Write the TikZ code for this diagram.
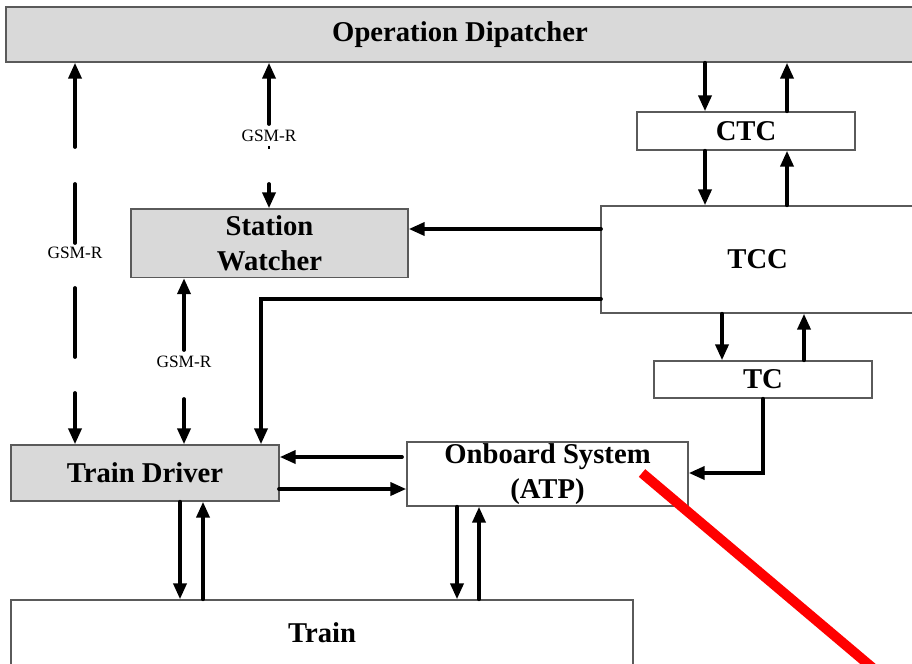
\documentclass[tikz,border=0pt]{standalone}
\usepackage{fontspec}
\setmainfont{Liberation Serif}
\usetikzlibrary{arrows.meta}
\definecolor{boxfill}{RGB}{217,217,217}
\definecolor{boxline}{RGB}{90,90,90}
\begin{document}
\begin{tikzpicture}[x=0.75pt,y=-0.75pt,
  unit/.style={draw=boxline,line width=1.1pt,inner sep=0pt,align=center,
    font=\fontsize{21.5}{26.25}\selectfont\bfseries},
  shaded/.style={unit,fill=boxfill},
  plain/.style={unit,fill=white},
  link/.style={line width=2.8pt,line cap=round,-{Triangle[length=12pt,width=9.75pt]}},
  bare/.style={line width=2.8pt,line cap=round},
  radio/.style={font=\fontsize{13}{15}\selectfont,inner sep=0pt}]
\useasboundingbox (0,0) rectangle (912,663);

% blocks (the dispatcher and TCC run past the right edge)
\node[shaded, minimum width=699pt,   minimum height=41.25pt]  (disp)  at (472,34.5)    {\hspace*{-18pt}Operation Dipatcher};
\node[plain,  minimum width=163.5pt, minimum height=28.5pt]   (ctc)   at (746,131)     {CTC};
\node[plain,  minimum width=255pt,   minimum height=80.25pt]  (tcc)   at (771,259.5)   {\hspace*{-20pt}TCC};
\node[plain,  minimum width=163.5pt, minimum height=27.75pt]  (tc)    at (763,379.5)   {TC};
\node[shaded, minimum width=207.75pt,minimum height=51.375pt] (sw)    at (269.5,243.25){Station\\Watcher};
\node[shaded, minimum width=201pt,   minimum height=42pt]     (td)    at (145,473)     {Train Driver};
\node[plain,  minimum width=210.75pt,minimum height=48pt]     (obs)   at (547.5,474)   {Onboard System\\(ATP)};
\node[plain,  minimum width=466.5pt, minimum height=49.5pt]   (train) at (322,633)     {Train};

% GSM-R radio link: dispatcher <-> driver
\coordinate (a1) at (75,147);
\coordinate (a2) at (75,184);
\coordinate (a3) at (75,243);
\coordinate (a4) at (75,288);
\coordinate (a5) at (75,357);
\coordinate (a6) at (75,393);
\draw[link] (a1) -- (a1 |- disp.south);
\draw[bare] (a2) -- (a3);
\node[radio] (r1) at (75,253) {GSM-R};
\draw[bare] (a4) -- (a5);
\draw[link] (a6) -- (a6 |- td.north);

% GSM-R radio link: dispatcher <-> station watcher
\coordinate (b1) at (269,124);
\coordinate (b2) at (269,146);
\coordinate (b3) at (269,148.5);
\coordinate (b4) at (269,184);
\draw[link] (b1) -- (b1 |- disp.south);
\node[radio] (r2) at (269,136) {GSM-R};
\draw[line width=1.5pt] (b2) -- (b3);
\draw[link] (b4) -- (b4 |- sw.north);

% GSM-R radio link: station watcher <-> driver
\coordinate (c1) at (184,350);
\coordinate (c2) at (184,399);
\draw[link] (c1) -- (c1 |- sw.south);
\node[radio] (r3) at (184,362) {GSM-R};
\draw[link] (c2) -- (c2 |- td.north);

% TCC outputs
\coordinate (d1) at (601,229);
\draw[link] (d1) -- (d1 -| sw.east);
\coordinate (e1) at (601,299);
\coordinate (e2) at (261,299);
\draw[link] (e1) -- (e2) -- (e2 |- td.north);

% dispatcher <-> CTC <-> TCC
\coordinate (f1) at (705,0);
\coordinate (f2) at (787,0);
\draw[link] (f1 |- disp.south) -- (f1 |- ctc.north);
\draw[link] (f2 |- ctc.north) -- (f2 |- disp.south);
\draw[link] (f1 |- ctc.south) -- (f1 |- tcc.north);
\draw[link] (f2 |- tcc.north) -- (f2 |- ctc.south);

% TCC <-> TC
\coordinate (g1) at (722,0);
\coordinate (g2) at (804,0);
\draw[link] (g1 |- tcc.south) -- (g1 |- tc.north);
\draw[link] (g2 |- tc.north) -- (g2 |- tcc.south);

% TC -> onboard system
\coordinate (h1) at (763,473);
\draw[link] (tc.south) -- (h1) -- (h1 -| obs.east);

% driver <-> onboard system
\coordinate (k1) at (402,457);
\coordinate (k2) at (279,489);
\draw[link] (k1) -- (k1 -| td.east);
\draw[link] (k2) -- (k2 -| obs.west);

% driver <-> train
\coordinate (m1) at (180,0);
\coordinate (m2) at (203,0);
\draw[link] (m1 |- td.south) -- (m1 |- train.north);
\draw[link] (m2 |- train.north) -- (m2 |- td.south);

% onboard system <-> train
\coordinate (n1) at (457,0);
\coordinate (n2) at (479,0);
\draw[link] (n1 |- obs.south) -- (n1 |- train.north);
\draw[link] (n2 |- train.north) -- (n2 |- obs.south);

% red stroke
\coordinate (s1) at (642,473);
\coordinate (s2) at (881,675);
\draw[red,line width=7.5pt] (s1) -- (s2);
\end{tikzpicture}
\end{document}
